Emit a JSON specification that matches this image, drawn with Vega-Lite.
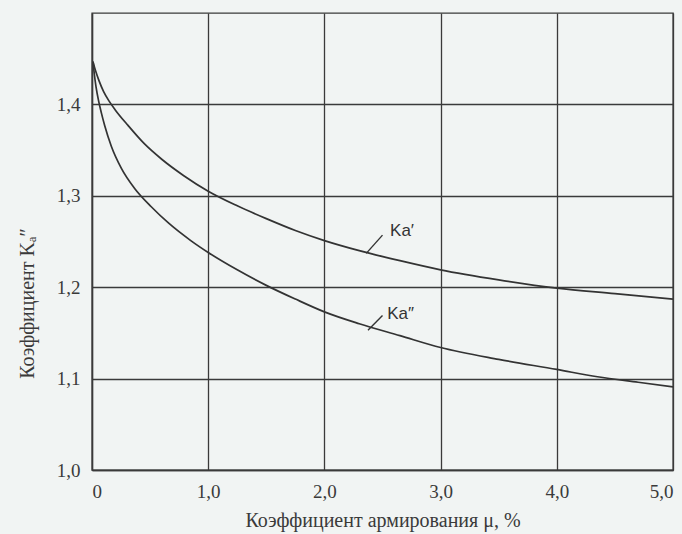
{
  "$schema": "https://vega.github.io/schema/vega-lite/v6.json",
  "width": 581,
  "height": 457,
  "autosize": {"type": "none"},
  "padding": {"left": 92, "top": 13, "right": 9, "bottom": 64},
  "background": "#f1f4f3",
  "config": {
    "view": {"stroke": "#3a3a3a", "strokeWidth": 1.4},
    "axis": {
      "labelFont": "Liberation Serif",
      "titleFont": "Liberation Serif",
      "labelColor": "#3a3a3a",
      "titleColor": "#3a3a3a",
      "labelFontWeight": "normal",
      "titleFontWeight": "normal",
      "domainColor": "#3a3a3a",
      "domainWidth": 1.4,
      "gridColor": "#3a3a3a",
      "gridOpacity": 1,
      "gridWidth": 1.3,
      "ticks": false
    }
  },
  "datasets": {
    "curves": [
      {"series": "Ka1", "mu": 0.01, "k": 1.446},
      {"series": "Ka1", "mu": 0.03, "k": 1.437},
      {"series": "Ka1", "mu": 0.06, "k": 1.426},
      {"series": "Ka1", "mu": 0.1, "k": 1.414},
      {"series": "Ka1", "mu": 0.15, "k": 1.403},
      {"series": "Ka1", "mu": 0.2, "k": 1.394},
      {"series": "Ka1", "mu": 0.31, "k": 1.377},
      {"series": "Ka1", "mu": 0.45, "k": 1.357},
      {"series": "Ka1", "mu": 0.6, "k": 1.34},
      {"series": "Ka1", "mu": 0.79, "k": 1.322},
      {"series": "Ka1", "mu": 1.0, "k": 1.305},
      {"series": "Ka1", "mu": 1.25, "k": 1.289},
      {"series": "Ka1", "mu": 1.5, "k": 1.275},
      {"series": "Ka1", "mu": 1.75, "k": 1.262},
      {"series": "Ka1", "mu": 2.0, "k": 1.251},
      {"series": "Ka1", "mu": 2.3, "k": 1.24},
      {"series": "Ka1", "mu": 2.65, "k": 1.229},
      {"series": "Ka1", "mu": 3.0, "k": 1.219},
      {"series": "Ka1", "mu": 3.5, "k": 1.208},
      {"series": "Ka1", "mu": 4.0, "k": 1.199},
      {"series": "Ka1", "mu": 4.5, "k": 1.193},
      {"series": "Ka1", "mu": 5.0, "k": 1.187},
      {"series": "Ka2", "mu": 0.009, "k": 1.447},
      {"series": "Ka2", "mu": 0.02, "k": 1.433},
      {"series": "Ka2", "mu": 0.035, "k": 1.419},
      {"series": "Ka2", "mu": 0.055, "k": 1.405},
      {"series": "Ka2", "mu": 0.08, "k": 1.391},
      {"series": "Ka2", "mu": 0.109, "k": 1.377},
      {"series": "Ka2", "mu": 0.167, "k": 1.354},
      {"series": "Ka2", "mu": 0.253, "k": 1.33},
      {"series": "Ka2", "mu": 0.367, "k": 1.308},
      {"series": "Ka2", "mu": 0.51, "k": 1.288},
      {"series": "Ka2", "mu": 0.66, "k": 1.27},
      {"series": "Ka2", "mu": 0.85, "k": 1.251},
      {"series": "Ka2", "mu": 1.0, "k": 1.238},
      {"series": "Ka2", "mu": 1.25, "k": 1.219},
      {"series": "Ka2", "mu": 1.5, "k": 1.202},
      {"series": "Ka2", "mu": 1.75, "k": 1.187},
      {"series": "Ka2", "mu": 2.0, "k": 1.173},
      {"series": "Ka2", "mu": 2.3, "k": 1.16},
      {"series": "Ka2", "mu": 2.65, "k": 1.147},
      {"series": "Ka2", "mu": 3.0, "k": 1.134},
      {"series": "Ka2", "mu": 3.5, "k": 1.121},
      {"series": "Ka2", "mu": 4.0, "k": 1.11},
      {"series": "Ka2", "mu": 4.35, "k": 1.102},
      {"series": "Ka2", "mu": 4.7, "k": 1.096},
      {"series": "Ka2", "mu": 5.0, "k": 1.091}
    ],
    "labels": [
      {"text": "Ka′", "mu": 2.565, "k": 1.261, "mu0": 2.36, "k0": 1.237, "mu1": 2.5, "k1": 1.257},
      {"text": "Ka″", "mu": 2.54, "k": 1.171, "mu0": 2.375, "k0": 1.153, "mu1": 2.5, "k1": 1.169}
    ]
  },
  "layer": [
    {
      "data": {"name": "curves"},
      "mark": {"type": "line", "interpolate": "monotone", "strokeWidth": 1.7, "clip": true},
      "encoding": {
        "x": {
          "field": "mu", "type": "quantitative",
          "scale": {"domain": [0, 5], "nice": false, "zero": false},
          "axis": {
            "values": [0, 1, 2, 3, 4, 5],
            "labelExpr": "datum.value == 0 ? '0' : replace(format(datum.value, '.1f'), '.', ',')",
            "labelFontSize": 19,
            "labelPadding": 12,
            "title": "Коэффициент армирования μ, %",
            "titleFontSize": 20,
            "titleBaseline": "top",
            "titleY": 40
          }
        },
        "y": {
          "field": "k", "type": "quantitative",
          "scale": {"domain": [1.0, 1.5], "nice": false, "zero": false},
          "axis": {
            "values": [1.0, 1.1, 1.2, 1.3, 1.4],
            "labelExpr": "replace(format(datum.value, '.1f'), '.', ',')",
            "labelFontSize": 19,
            "labelPadding": 12,
            "title": "Коэффициент Kₐ″",
            "titleFontSize": 20,
            "titleX": -55,
            "titleY": 290
          }
        },
        "color": {"field": "series", "type": "nominal", "scale": {"range": ["#333333", "#333333"]}, "legend": null}
      }
    },
    {
      "data": {"name": "labels"},
      "mark": {"type": "rule", "color": "#333333", "strokeWidth": 1.4},
      "encoding": {
        "x": {"field": "mu0", "type": "quantitative"},
        "y": {"field": "k0", "type": "quantitative"},
        "x2": {"field": "mu1"},
        "y2": {"field": "k1"}
      }
    },
    {
      "data": {"name": "labels"},
      "mark": {"type": "text", "align": "left", "baseline": "middle", "font": "Liberation Sans", "fontSize": 17, "color": "#333333"},
      "encoding": {
        "x": {"field": "mu", "type": "quantitative"},
        "y": {"field": "k", "type": "quantitative"},
        "text": {"field": "text"}
      }
    }
  ]
}
